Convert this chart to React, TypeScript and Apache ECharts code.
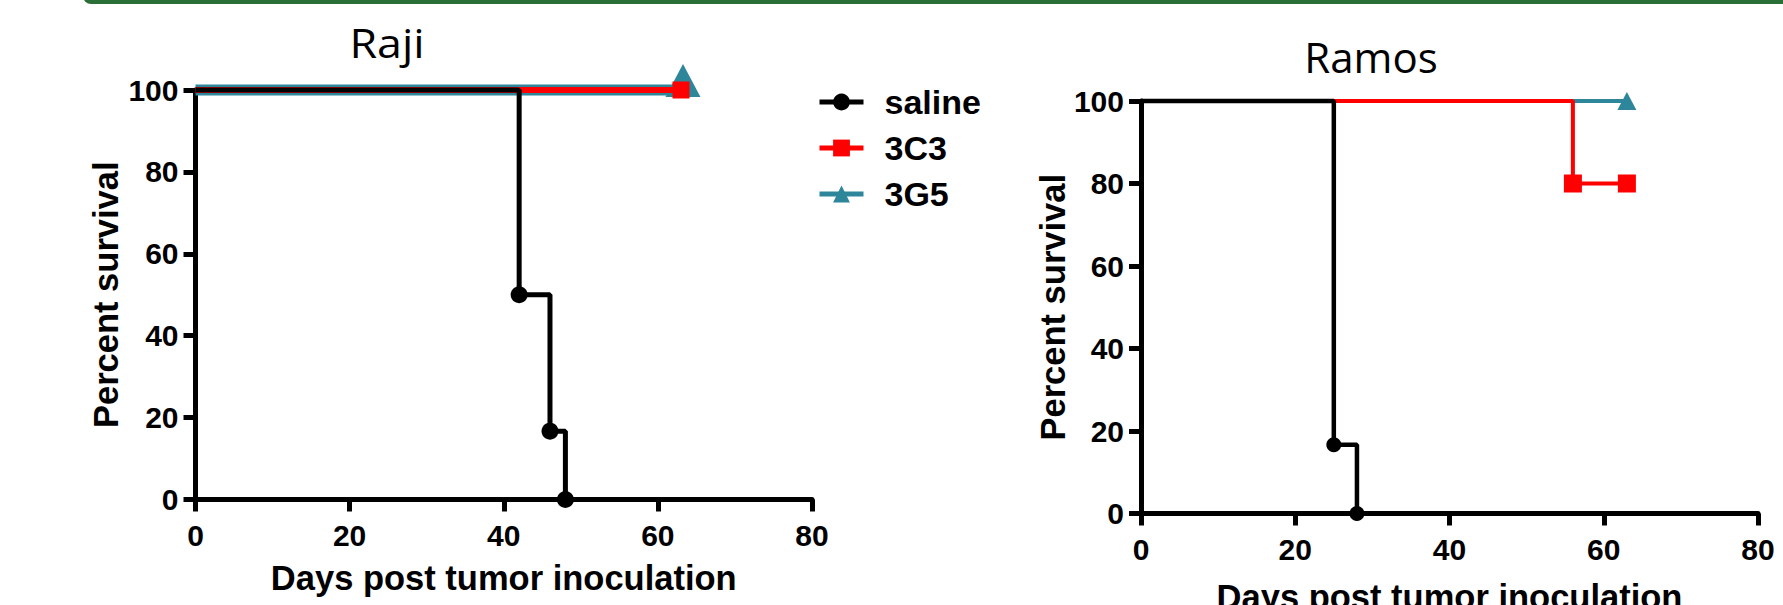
import React, { useEffect, useRef } from "react";
import * as echarts from "echarts";

// ---------- data ----------
const groups = ["saline", "3C3", "3G5"];
const xTicks = { min: 0, max: 80, interval: 20 };
const yTicks = { min: 0, max: 100, interval: 20 };

// Raji
const rajiSalineDays = [0, 42, 46, 48];
const rajiSalinePct = [100, 50, 16.67, 0];
const raji3C3Days = [0, 63];
const raji3C3Pct = [100, 100];
const raji3G5Days = [0, 63];
const raji3G5Pct = [100, 100];

// Ramos
const ramosSalineDays = [0, 25, 28];
const ramosSalinePct = [100, 16.67, 0];
const ramos3C3Days = [0, 56, 63];
const ramos3C3Pct = [100, 80, 80];
const ramos3G5Days = [0, 63];
const ramos3G5Pct = [100, 100];

const panelTitles = ["Raji", "Ramos"];
const xName = "Days post tumor inoculation";
const yName = "Percent survival";

// ---------- styles ----------
const FONT = '"Liberation Sans", Arial, sans-serif';
const TITLE_FONT = '"Open Sans", "Noto Sans", sans-serif';
const BLACK = "#000000";
const RED = "#ff0000";
const TEAL = "#2e869b";

function km(days: number[], pct: number[]) {
  return days.map((d, i) =>
    i === 0 ? { value: [d, pct[i]], symbol: "none" } : { value: [d, pct[i]] }
  );
}

function makeAxes(idx: number, xGap: number, yGap: number) {
  const axisLine = { show: true, lineStyle: { color: BLACK, width: 5 } };
  const axisTick = { show: true, length: 12, lineStyle: { color: BLACK, width: 5 } };
  const x = {
    type: "value",
    gridIndex: idx,
    ...xTicks,
    name: xName,
    nameLocation: "middle",
    nameGap: xGap,
    nameTextStyle: { fontFamily: FONT, fontWeight: "bold", fontSize: 34.5, color: BLACK },
    axisLine,
    axisTick,
    splitLine: { show: false },
    axisLabel: { fontFamily: FONT, fontWeight: "bold", fontSize: 30, color: BLACK, margin: 21 },
  };
  const y = {
    type: "value",
    gridIndex: idx,
    ...yTicks,
    name: yName,
    nameLocation: "middle",
    nameGap: yGap,
    nameTextStyle: { fontFamily: FONT, fontWeight: "bold", fontSize: 34.5, color: BLACK },
    axisLine,
    axisTick,
    splitLine: { show: false },
    axisLabel: { fontFamily: FONT, fontWeight: "bold", fontSize: 30, color: BLACK, margin: 17 },
  };
  return { x, y };
}

export default function App() {
  const ref = useRef<HTMLDivElement>(null);

  useEffect(() => {
    if (!ref.current) return;
    const chart = echarts.init(ref.current, null, { renderer: "svg" });
    const a0 = makeAxes(0, 61, 72);
    const a1 = makeAxes(1, 66, 68);

    const base = { type: "line", step: "end", clip: false, showSymbol: true };

    const option: any = {
      animation: false,
      backgroundColor: "#ffffff",
      grid: [
        { left: 195.5, top: 90, width: 616.5, height: 409.5, outerBoundsMode: "none", containLabel: false },
        { left: 1141, top: 101, width: 617, height: 412.5, outerBoundsMode: "none", containLabel: false },
      ],
      xAxis: [a0.x, a1.x],
      yAxis: [a0.y, a1.y],
      legend: {
        orient: "vertical",
        left: 817,
        top: 85,
        padding: 0,
        itemWidth: 44,
        itemHeight: 21,
        itemGap: 12,
        selectedMode: false,
        data: groups,
        textStyle: {
          fontFamily: FONT,
          fontWeight: "bold",
          fontSize: 34,
          color: BLACK,
          padding: [0, 0, 0, 16],
        },
        lineStyle: { width: 5, shadowColor: "transparent", shadowOffsetY: 0, shadowBlur: 0 },
      },
      graphic: [
        {
          type: "rect",
          shape: { x: 83, y: -20, width: 1720, height: 24, r: [0, 0, 0, 8] },
          style: { fill: "#2a6e38" },
        },
        {
          type: "text",
          x: 387,
          y: 42,
          scaleX: 1.12,
          style: {
            text: panelTitles[0],
            fontFamily: TITLE_FONT,
            fontSize: 40,
            fill: BLACK,
            textAlign: "center",
            textVerticalAlign: "middle",
          },
        },
        {
          type: "text",
          x: 1371,
          y: 56,
          style: {
            text: panelTitles[1],
            fontFamily: TITLE_FONT,
            fontSize: 42,
            fill: BLACK,
            textAlign: "center",
            textVerticalAlign: "middle",
          },
        },
      ],
      series: [
        // Raji
        {
          ...base,
          name: groups[0],
          xAxisIndex: 0,
          yAxisIndex: 0,
          z: 5,
          data: km(rajiSalineDays, rajiSalinePct),
          symbol: "circle",
          symbolSize: 17,
          itemStyle: { color: BLACK },
          lineStyle: { color: BLACK, width: 5 },
        },
        {
          ...base,
          name: groups[1],
          xAxisIndex: 0,
          yAxisIndex: 0,
          z: 4,
          data: km(raji3C3Days, raji3C3Pct),
          symbol: "rect",
          symbolSize: 17,
          itemStyle: { color: RED },
          lineStyle: { color: RED, width: 6 },
        },
        {
          ...base,
          name: groups[2],
          xAxisIndex: 0,
          yAxisIndex: 0,
          z: 3,
          data: km(raji3G5Days, raji3G5Pct),
          symbol: "triangle",
          symbolSize: [35, 33],
          symbolOffset: [2, -9.5],
          itemStyle: { color: TEAL },
          lineStyle: { color: TEAL, width: 11 },
        },
        // Ramos
        {
          ...base,
          name: groups[0],
          xAxisIndex: 1,
          yAxisIndex: 1,
          z: 5,
          data: km(ramosSalineDays, ramosSalinePct),
          symbol: "circle",
          symbolSize: 15,
          itemStyle: { color: BLACK },
          lineStyle: { color: BLACK, width: 4.5 },
        },
        {
          ...base,
          name: groups[1],
          xAxisIndex: 1,
          yAxisIndex: 1,
          z: 4,
          data: km(ramos3C3Days, ramos3C3Pct),
          symbol: "rect",
          symbolSize: 18,
          itemStyle: { color: RED },
          lineStyle: { color: RED, width: 4 },
        },
        {
          ...base,
          name: groups[2],
          xAxisIndex: 1,
          yAxisIndex: 1,
          z: 3,
          data: km(ramos3G5Days, ramos3G5Pct),
          symbol: "triangle",
          symbolSize: [19, 18],
          itemStyle: { color: TEAL },
          lineStyle: { color: TEAL, width: 4 },
        },
      ],
    };
    chart.setOption(option);
    return () => chart.dispose();
  }, []);

  return (
    <div
      ref={ref}
      style={{ position: "fixed", left: 0, top: 0, width: 1783, height: 605, background: "#fff" }}
    />
  );
}
